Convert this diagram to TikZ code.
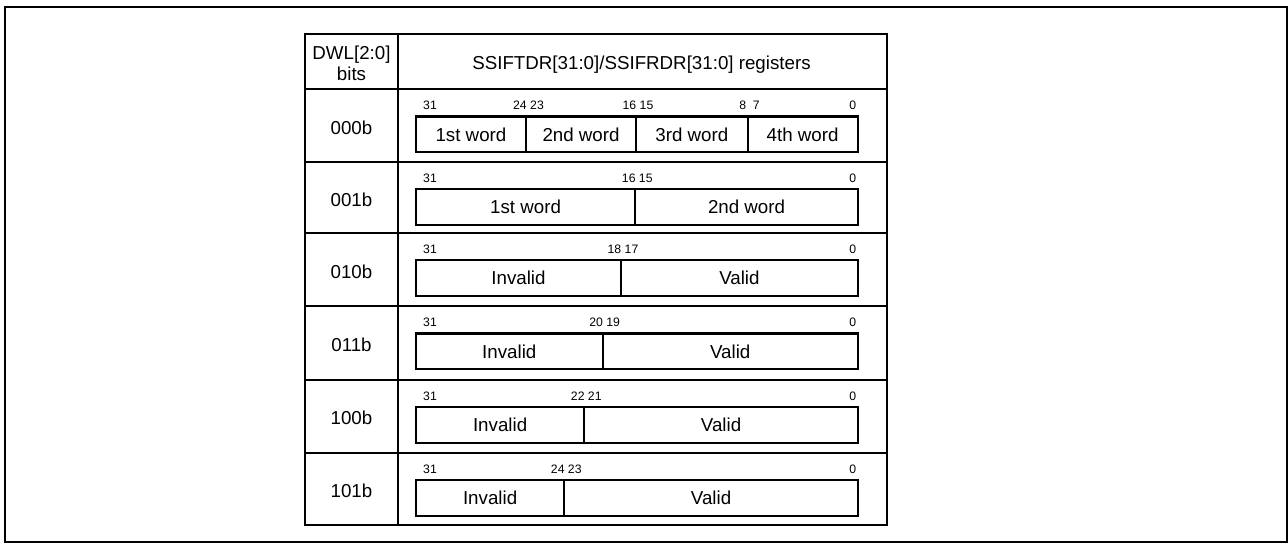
\documentclass[tikz,border=0pt]{standalone}
\usepackage{fontspec}
\setmainfont{Liberation Sans}
\newcommand\txtbig{\fontsize{18.8}{21}\selectfont}
\newcommand\txtbit{\fontsize{12.3}{14}\selectfont}
\begin{document}
\begin{tikzpicture}[x=1bp,y=-1bp,
  frame/.style={line width=2.2bp},
  grid/.style={line width=2.1bp},
  field/.style={draw, line width=2.1bp, inner sep=0pt, anchor=north west, minimum height=35.8bp, font=\txtbig},
  bitl/.style={inner sep=0pt, font=\txtbit},
  lab/.style={inner sep=0pt, font=\txtbig}]
\useasboundingbox (0,0) rectangle (1288,543);
% outer frame
\draw[frame] (5,7) rectangle (1287,542);
% table grid
\draw[grid] (305,34) rectangle (887.3,525.3);
\draw[grid] (398,34) -- (398,525.3);
\foreach \yy in {89.3,162,233,306,380,452.7}
  \draw[grid] (305,\yy) -- (887.3,\yy);
% header
\node[lab, anchor=base] (h1) at (351.5,60) {DWL[2:0]};
\node[lab, anchor=base] (h2) at (351.5,81) {bits};
\node[lab, anchor=base] (ht) at (641.5,69.3) {SSIFTDR[31:0]/SSIFRDR[31:0] registers};
% row labels
\node[lab] (l0) at (351.5,127.6) {000b};
\node[lab] (l1) at (351.5,199.6) {001b};
\node[lab] (l2) at (351.5,271.9) {010b};
\node[lab] (l3) at (351.5,345.2) {011b};
\node[lab] (l4) at (351.5,418.3) {100b};
\node[lab] (l5) at (351.5,491) {101b};
% ---- row 000b (T=89.3)
\node[field, minimum width=110.2bp] (a1) at (414.8,115.5) {1st word};
\node[field, minimum width=110bp] (a2) at (525,115.5) {2nd word};
\node[field, minimum width=111.5bp] (a3) at (635,115.5) {3rd word};
\node[field, minimum width=110.2bp] (a4) at (746.5,115.5) {4th word};
\node[bitl, anchor=base west] (a31) at (423,109.6) {31};
\node[bitl, anchor=base] (a24) at (528.5,109.6) {24 23};
\node[bitl, anchor=base] (a16) at (638,109.6) {16 15};
\node[bitl, anchor=base] (a8) at (749.5,109.6) {8\ \ 7};
\node[bitl, anchor=base east] (a0) at (856.5,109.6) {0};
% ---- row 001b (T=162)
\node[field, minimum width=219.5bp] (b1) at (414.8,188.2) {1st word};
\node[field, minimum width=222.4bp] (b2) at (634.3,188.2) {2nd word};
\node[bitl, anchor=base west] (b31) at (423,182.3) {31};
\node[bitl, anchor=base] (b16) at (637.3,182.3) {16 15};
\node[bitl, anchor=base east] (b0) at (856.5,182.3) {0};
% ---- row 010b (T=233)
\node[field, minimum width=205.2bp] (c1) at (414.8,259.3) {Invalid};
\node[field, minimum width=236.7bp] (c2) at (620,259.3) {Valid};
\node[bitl, anchor=base west] (c31) at (423,253.4) {31};
\node[bitl, anchor=base] (c18) at (623,253.4) {18 17};
\node[bitl, anchor=base east] (c0) at (856.5,253.4) {0};
% ---- row 011b (T=306)
\node[field, minimum width=186.9bp] (d1) at (414.8,332.5) {Invalid};
\node[field, minimum width=255bp] (d2) at (601.7,332.5) {Valid};
\node[bitl, anchor=base west] (d31) at (423,326.6) {31};
\node[bitl, anchor=base] (d20) at (604.7,326.6) {20 19};
\node[bitl, anchor=base east] (d0) at (856.5,326.6) {0};
% ---- row 100b (T=380)
\node[field, minimum width=168.5bp] (e1) at (414.8,406.2) {Invalid};
\node[field, minimum width=273.4bp] (e2) at (583.3,406.2) {Valid};
\node[bitl, anchor=base west] (e31) at (423,400.3) {31};
\node[bitl, anchor=base] (e22) at (586.3,400.3) {22 21};
\node[bitl, anchor=base east] (e0) at (856.5,400.3) {0};
% ---- row 101b (T=452.7)
\node[field, minimum width=148.5bp] (f1) at (414.8,478.9) {Invalid};
\node[field, minimum width=293.4bp] (f2) at (563.3,478.9) {Valid};
\node[bitl, anchor=base west] (f31) at (423,473) {31};
\node[bitl, anchor=base] (f24) at (566.3,473) {24 23};
\node[bitl, anchor=base east] (f0) at (856.5,473) {0};
\end{tikzpicture}
\end{document}
